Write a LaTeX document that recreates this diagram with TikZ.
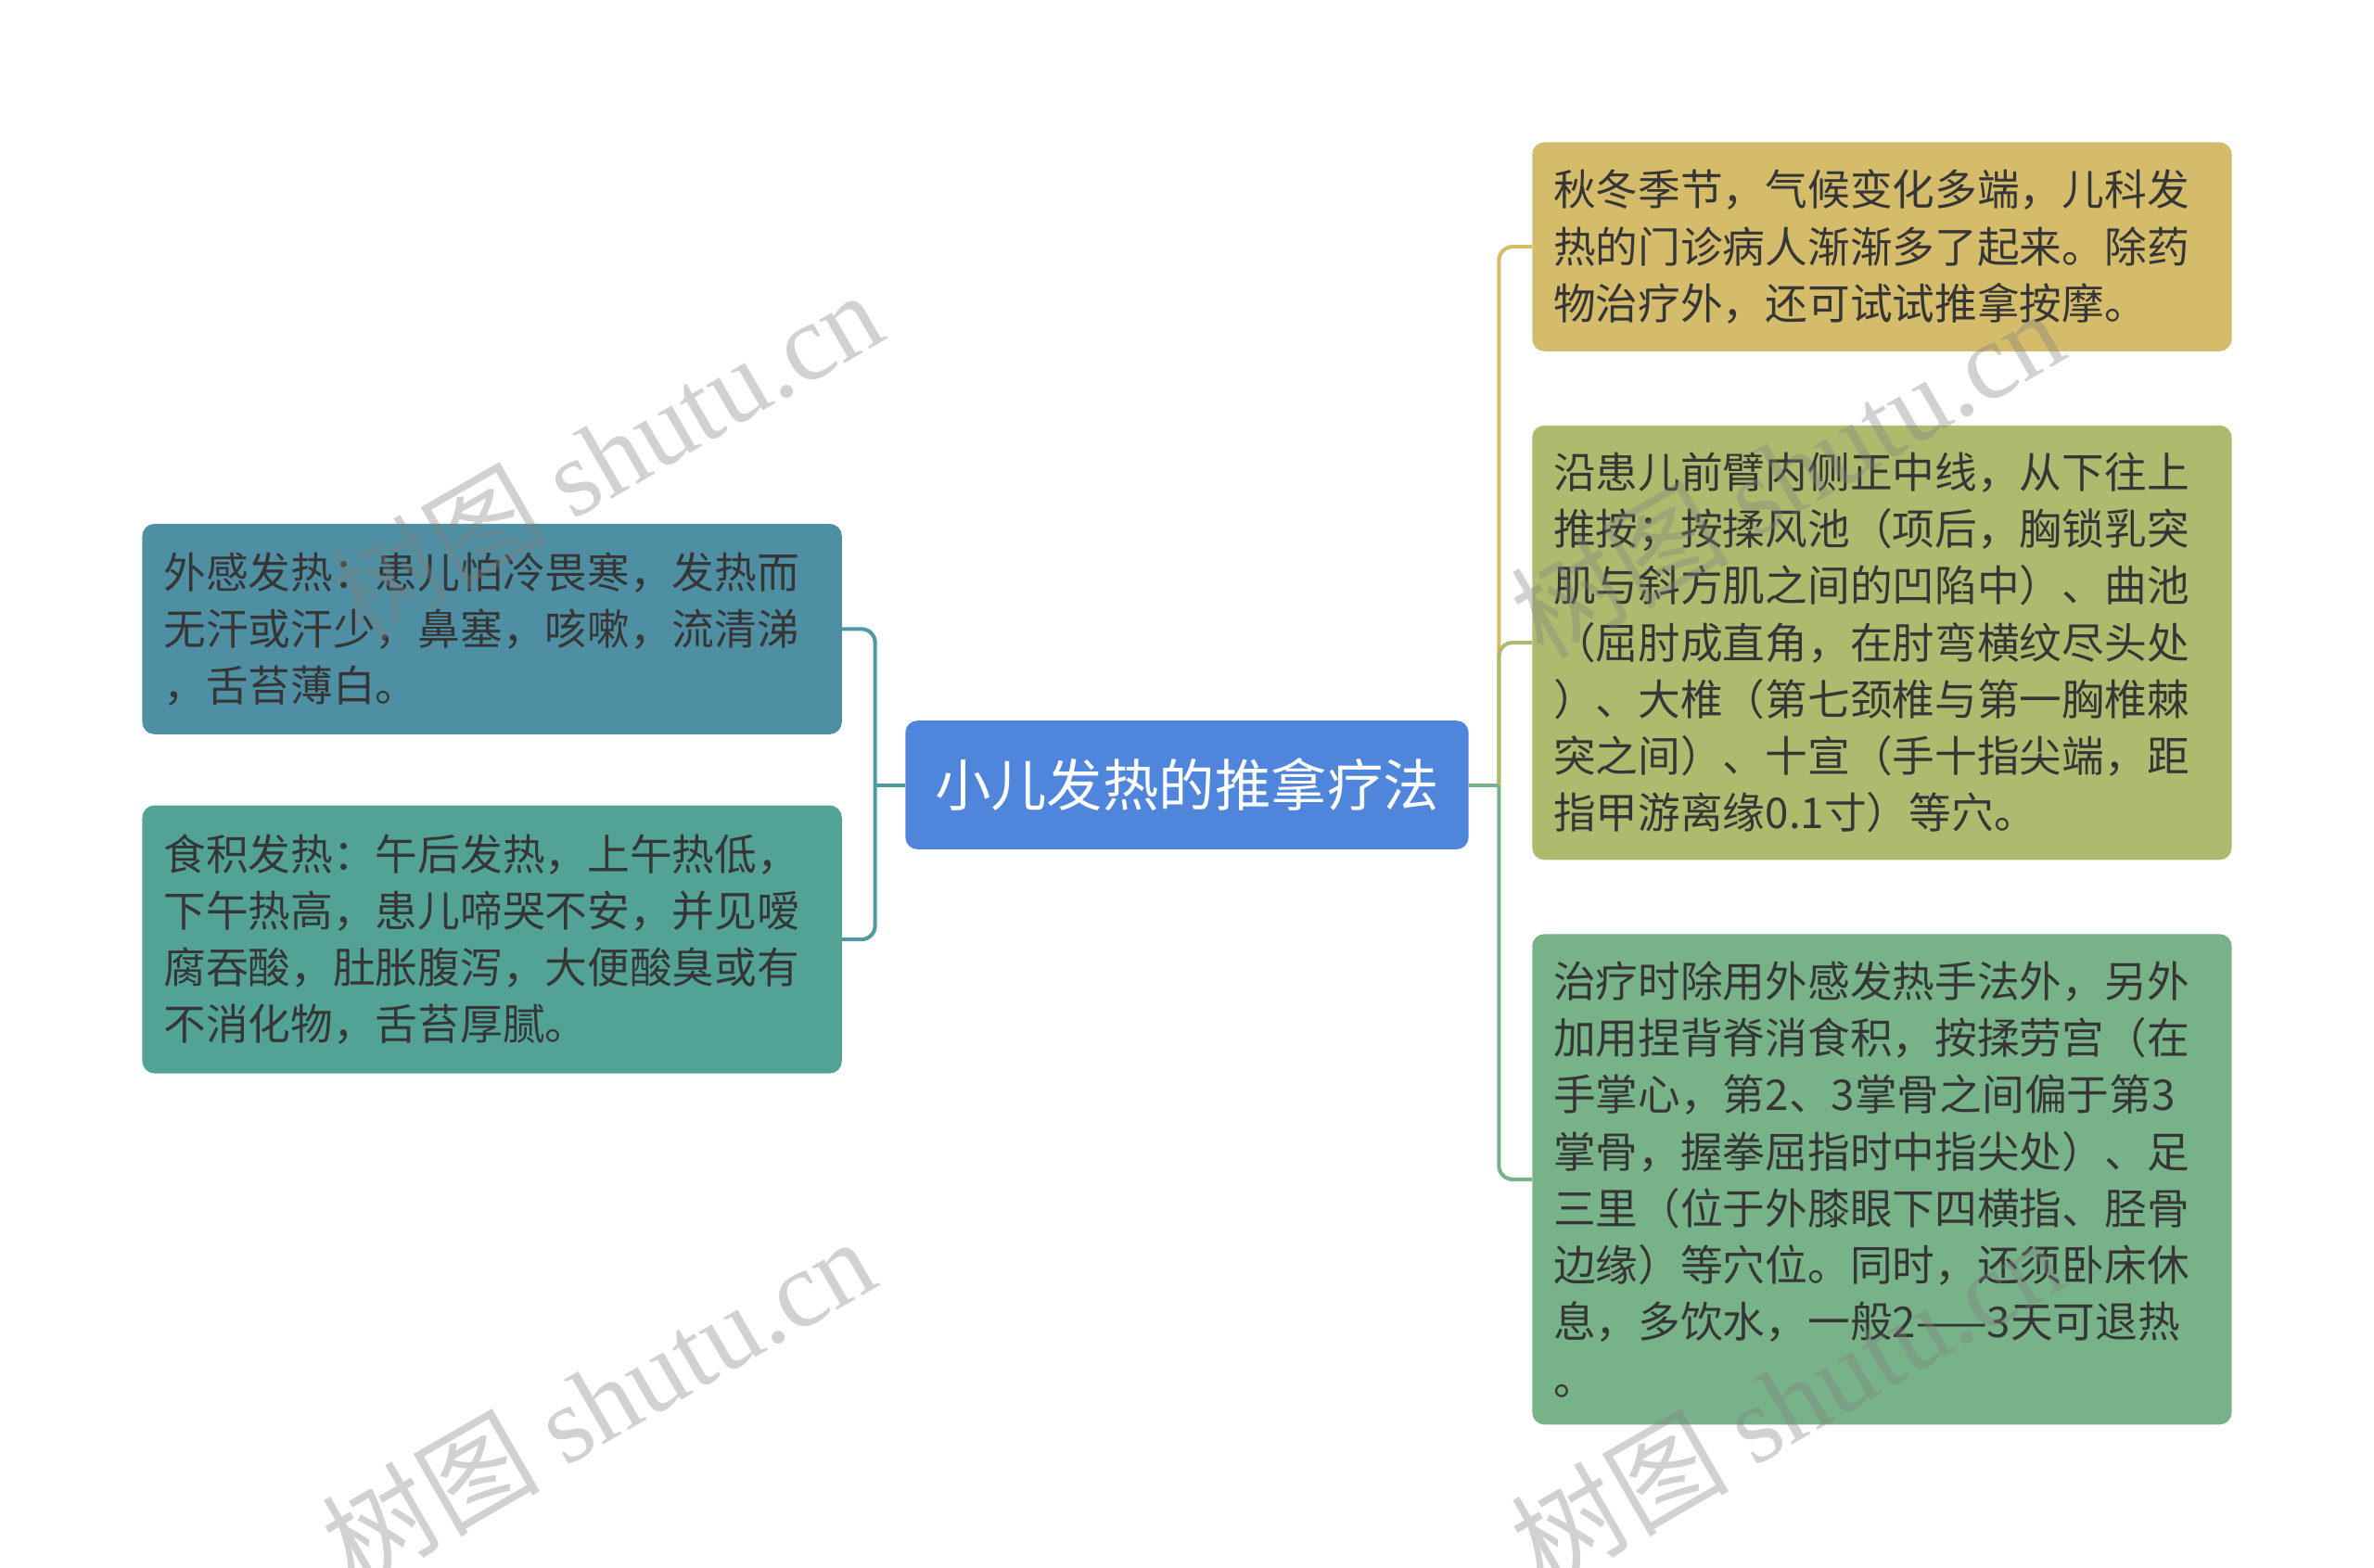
\documentclass[tikz,border=0pt]{standalone}
\usepackage{fontspec}
\setmainfont{Noto Sans CJK SC}
\newfontfamily\cjkfont{Noto Sans CJK SC}
\newfontfamily\wmserif{Liberation Serif}
\definecolor{cblue}{HTML}{4F86DB}
\definecolor{lblue}{HTML}{4F8FA3}
\definecolor{lteal}{HTML}{52A396}
\definecolor{rgold}{HTML}{D4BC6A}
\definecolor{rolive}{HTML}{AEBA6E}
\definecolor{rgreen}{HTML}{78B289}
\definecolor{lconn}{HTML}{4E9AA0}
\definecolor{txt}{HTML}{363636}
\begin{document}
\begin{tikzpicture}[x=1pt,y=-1pt,
  box/.style={rounded corners=8pt, minimum width=462pt, inner xsep=14pt, inner ysep=0pt,
    text width=434pt, align=left, text=txt, font=\fontsize{28}{37.5}\selectfont},
  conn/.style={line width=2.5pt, rounded corners=9pt},
  wm/.style={text=gray, opacity=0.36, font=\fontsize{72}{78}\selectfont, inner sep=0pt}]
\useasboundingbox (0,0) rectangle (1568,1035.7);
% centre
\node[fill=cblue, rounded corners=8pt, minimum width=372pt, minimum height=85pt, inner sep=0pt,
  text=white, font=\fontsize{37}{40}\selectfont] (c) at (784,518.5) {小儿发热的推拿疗法};
% left
\node[box, fill=lblue, minimum height=139pt] (l1) at (325,415.5)
  {外感发热：患儿怕冷畏寒，发热而\\无汗或汗少，鼻塞，咳嗽，流清涕\\，舌苔薄白。};
\node[box, fill=lteal, minimum height=177pt] (l2) at (325,620.5)
  {食积发热：午后发热，上午热低，\\下午热高，患儿啼哭不安，并见嗳\\腐吞酸，肚胀腹泻，大便酸臭或有\\不消化物，舌苔厚腻。};
% right
\node[box, fill=rgold, minimum height=138pt] (r1) at (1243,163)
  {秋冬季节，气候变化多端，儿科发\\热的门诊病人渐渐多了起来。除药\\物治疗外，还可试试推拿按摩。};
\node[box, fill=rolive, minimum height=287pt] (r2) at (1243,424.5)
  {沿患儿前臂内侧正中线，从下往上\\推按；按揉风池（项后，胸锁乳突\\肌与斜方肌之间的凹陷中）、曲池\\（屈肘成直角，在肘弯横纹尽头处\\）、大椎（第七颈椎与第一胸椎棘\\突之间）、十宣（手十指尖端，距\\指甲游离缘0.1寸）等穴。};
\node[box, fill=rgreen, minimum height=324pt] (r3) at (1243,779)
  {治疗时除用外感发热手法外，另外\\加用捏背脊消食积，按揉劳宫（在\\手掌心，第2、3掌骨之间偏于第3\\掌骨，握拳屈指时中指尖处）、足\\三里（位于外膝眼下四横指、胫骨\\边缘）等穴位。同时，还须卧床休\\息，多饮水，一般2——3天可退热\\。};
% connectors
\coordinate (lj) at (578,518.5);
\coordinate (rj) at (990,518.5);
\draw[conn, lconn] (c.west) -- (lj);
\draw[conn, lconn] (l1.east) -| (lj) |- (l2.east);
\draw[conn, rgold] (rj) |- (r1.west);
\draw[conn, rolive] (rj) |- (r2.west);
\draw[conn, rgreen] (rj) |- (r3.west);
\draw[conn, rgreen] (c.east) -- (rj);
% watermarks
\node[wm, rotate=30] (w1) at (400,300) {{\cjkfont 树图} {\wmserif shutu.cn}};
\node[wm, rotate=30] (w2) at (395,925) {{\cjkfont 树图} {\wmserif shutu.cn}};
\node[wm, rotate=30] (w3) at (1180,312) {{\cjkfont 树图} {\wmserif shutu.cn}};
\node[wm, rotate=30] (w4) at (1180,925) {{\cjkfont 树图} {\wmserif shutu.cn}};
\end{tikzpicture}
\end{document}
